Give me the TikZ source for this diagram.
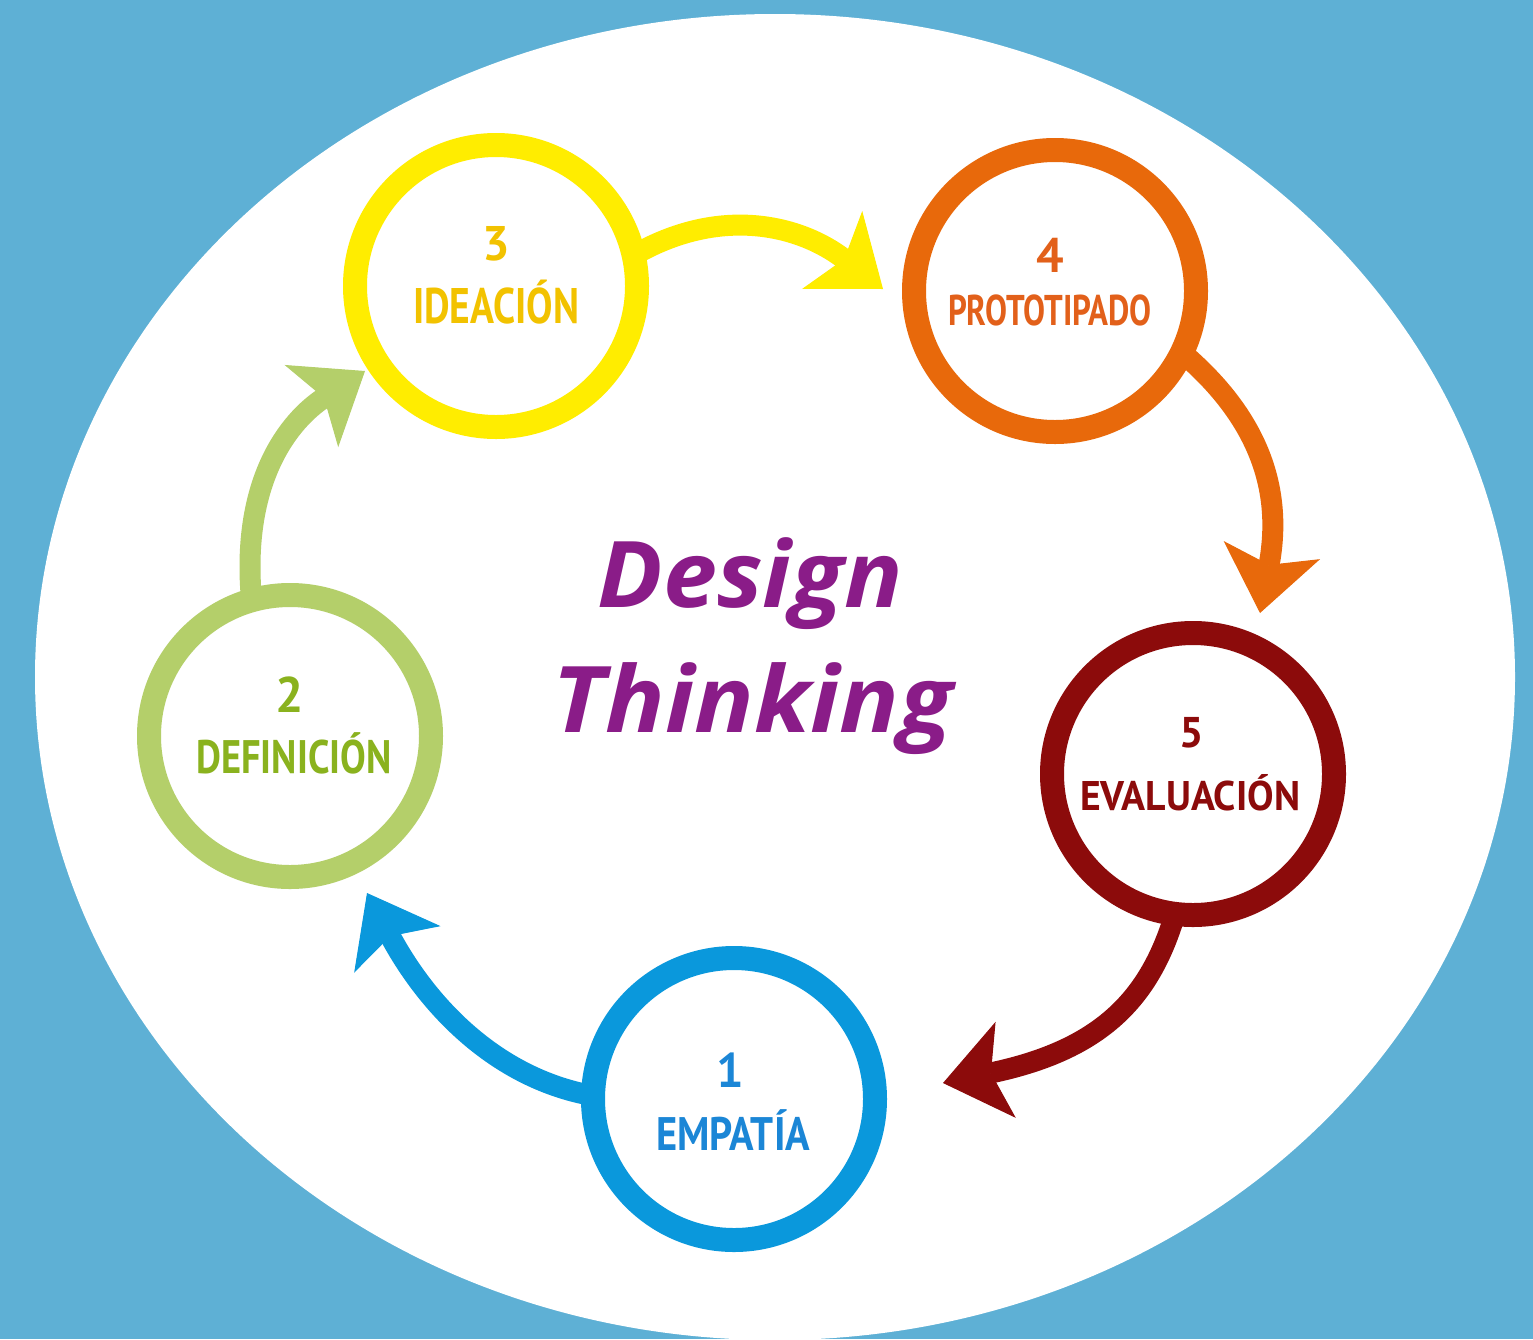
\documentclass[tikz,border=0pt]{standalone}
\usepackage{fontspec}
\usepackage{graphicx}
\usetikzlibrary{arrows.meta}
\newfontfamily\lblfont{PT Sans}
\newfontfamily\ttlfont{Open Sans}
\definecolor{bgblue}{HTML}{5EB0D5}
\definecolor{cyel}{HTML}{FFED00}
\definecolor{tyel}{HTML}{F2C200}
\definecolor{corg}{HTML}{E8690B}
\definecolor{tora}{HTML}{E2601A}
\definecolor{cred}{HTML}{8C0B0B}
\definecolor{cblu}{HTML}{0A98DC}
\definecolor{tblu}{HTML}{1B86D6}
\definecolor{cgrn}{HTML}{B4CF6A}
\definecolor{tgrn}{HTML}{8AB21E}
\definecolor{cpur}{HTML}{8A1C88}
\pgfdeclarelayer{background}
\pgfsetlayers{background,main}
\newcommand{\lblsz}[3]{\resizebox{#1pt}{\height}{\fontsize{#2pt}{#2pt}\selectfont #3}}
\newcommand{\numsz}[2]{{\fontsize{#1pt}{#1pt}\selectfont #2}}
\tikzset{
  stage/.style={circle, draw=#1, line width=24pt, minimum size=282pt, inner sep=0pt, fill=white},
  lbl/.style={anchor=base, inner sep=0pt, font=\lblfont\bfseries, text=#1},
  ttl/.style={anchor=base, inner sep=0pt, font=\ttlfont\bfseries\itshape, text=cpur},
  flow/.style={color=#1, line width=21pt, shorten <=-14pt,
    -{Stealth[length=64pt,width=98pt,inset=15pt,line width=1pt]}},
}
\begin{document}
\begin{tikzpicture}[x=1pt,y=-1pt]
\useasboundingbox (0,0) rectangle (1533,1339);
\begin{pgfonlayer}{background}
\fill[bgblue] (0,0) rectangle (1533,1339);
\fill[white] (775,677) ellipse [x radius=740pt, y radius=663pt];
\end{pgfonlayer}

% stages
\node[stage=cyel] (n3) at (496,286) {};
\node[stage=corg] (n4) at (1055,291) {};
\node[stage=cred] (n5) at (1193,774) {};
\node[stage=cblu] (n1) at (734,1099) {};
\node[stage=cgrn] (n2) at (290,736) {};

% labels
\node[lbl=tyel] (n3a) at (496,260) {\numsz{48.6}{3}};
\node[lbl=tyel] (n3b) at (496,323) {\lblsz{166}{50}{IDEACIÓN}};
\node[lbl=tora] (n4a) at (1050,272) {\numsz{48.6}{4}};
\node[lbl=tora] (n4b) at (1050,325) {\lblsz{204}{43}{PROTOTIPADO}};
\node[lbl=cred] (n5a) at (1192,747) {\numsz{43}{5}};
\node[lbl=cred] (n5b) at (1190,810) {\lblsz{220}{41.4}{EVALUACIÓN}};
\node[lbl=tblu] (n1a) at (730,1087) {\numsz{48.6}{1}};
\node[lbl=tblu] (n1b) at (733,1150) {\lblsz{154}{47}{EMPATÍA}};
\node[lbl=tgrn] (n2a) at (290,712) {\numsz{50}{2}};
\node[lbl=tgrn] (n2b) at (294,773) {\lblsz{195}{47}{DEFINICIÓN}};

% title
\node[ttl] (d1) at (750,607) {\resizebox{305pt}{\height}{\fontsize{92pt}{92pt}\selectfont Design}};
\node[ttl] (d2) at (753,732) {\resizebox{400pt}{\height}{\fontsize{92pt}{92pt}\selectfont Thinking}};

% arrow tips
\coordinate (t34) at (883,289);
\coordinate (t45) at (1260,613);
\coordinate (t51) at (943,1083);
\coordinate (t12) at (367,893);
\coordinate (t23) at (365,371);

\begin{pgfonlayer}{background}
\draw[flow=cyel] (n3.14) .. controls (720,205) and (800,225) .. (t34);
\draw[flow=corg] (n4.333) .. controls (1250,410) and (1285,480) .. (t45);
\draw[flow=cred] (n5.262) .. controls (1150,1000) and (1100,1050) .. (t51);
\draw[flow=cblu] (n1.178) .. controls (500,1080) and (430,1010) .. (t12);
\draw[flow=cgrn] (n2.105) .. controls (240,480) and (290,420) .. (t23);
\end{pgfonlayer}
\end{tikzpicture}
\end{document}
